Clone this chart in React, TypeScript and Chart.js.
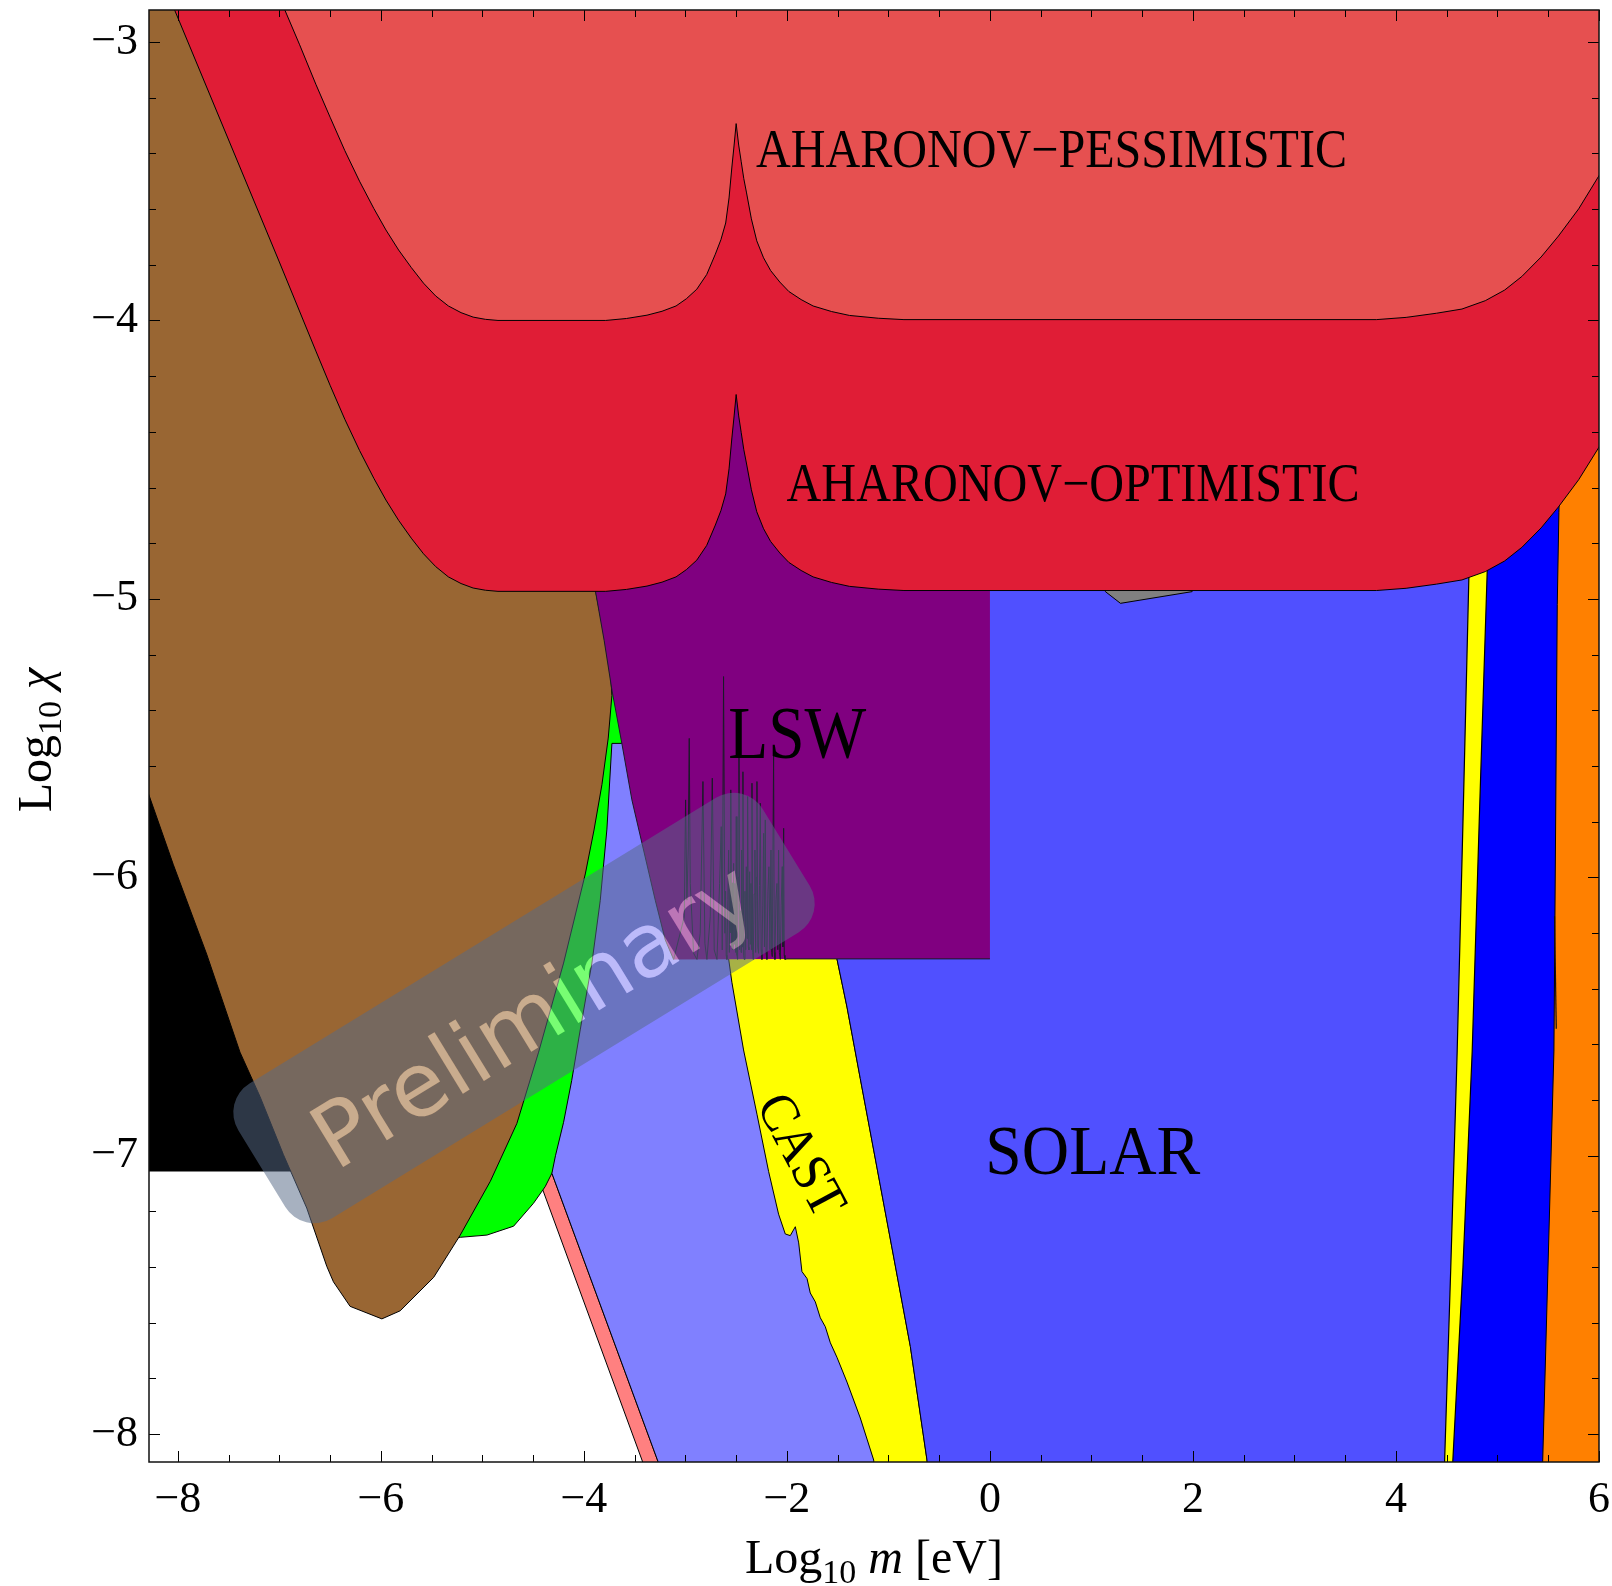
import React, { useEffect, useRef } from 'react';
import { Chart, registerables } from 'chart.js';

Chart.register(...registerables);

type Pt = [number, number];

// ---------- axes ----------
const X_MIN = -8.284;
const X_MAX = 6;
const Y_MIN = -8.1;
const Y_MAX = -2.885;
const xTickValues = [-8, -6, -4, -2, 0, 2, 4, 6];
const yTickValues = [-8, -7, -6, -5, -4, -3];
const xMinorStep = 0.5;
const yMinorStep = 0.2;

// ---------- regions (Log10 m, Log10 chi) ----------
const blackRegion: Pt[] = [[-8.4, -5.699], [-6.5, -5.699], [-6.5, -7.057], [-8.4, -7.057], [-8.4, -5.699]];

const pinkRegion: Pt[] = [[-4.498, -7.03], [-4.389, -6.99], [-3.167, -8.2], [-3.32, -8.2], [-4.498, -7.03]];

const greenRegion: Pt[] = [
  [-3.85, -5.1], [-3.6, -5.48], [-3.6, -6.2], [-4.0, -6.9], [-4.2, -7.0], [-4.315, -7.063],
  [-4.381, -7.111], [-4.497, -7.171], [-4.692, -7.253], [-4.955, -7.285], [-5.218, -7.293],
  [-5.35, -7.3], [-4.9, -6.8], [-4.3, -6.0], [-3.95, -5.3], [-3.85, -5.1],
];

const brownRegion: Pt[] = [
  [-8.4, -2.8], [-6.5, -2.8], [-4.5, -4.0], [-3.95, -4.8], [-3.887, -4.968], [-3.8, -5.13],
  [-3.735, -5.28], [-3.724, -5.347], [-3.76, -5.5], [-3.822, -5.667], [-3.9, -5.83],
  [-3.986, -5.988], [-4.2, -6.308], [-4.446, -6.628], [-4.66, -6.884], [-4.922, -7.092],
  [-5.218, -7.285], [-5.48, -7.437], [-5.81, -7.557], [-5.99, -7.586], [-6.303, -7.541],
  [-6.467, -7.453], [-6.533, -7.397], [-6.73, -7.188], [-6.96, -6.996], [-7.19, -6.788],
  [-7.388, -6.628], [-7.716, -6.276], [-8.044, -5.955], [-8.29, -5.699], [-8.4, -5.6], [-8.4, -2.8],
];

const periwinkleRegion: Pt[] = [
  [-3.724, -5.519], [-3.626, -5.519], [-3.5, -5.2], [-2.0, -5.2], [-0.9, -8.2], [-3.167, -8.2],
  [-3.265, -8.103], [-4.315, -7.063], [-4.28, -7.0], [-4.2, -6.88], [-4.12, -6.73], [-4.036, -6.548],
  [-3.921, -6.308], [-3.839, -6.084], [-3.773, -5.827], [-3.724, -5.519],
];

const castRegion: Pt[] = [
  [-3.0, -5.2], [-2.75, -5.9], [-2.574, -6.293], [-2.542, -6.377], [-2.427, -6.62], [-2.295, -6.851],
  [-2.18, -7.057], [-2.082, -7.21], [-2.016, -7.281], [-1.967, -7.287], [-1.917, -7.255],
  [-1.884, -7.313], [-1.852, -7.416], [-1.802, -7.441], [-1.77, -7.493], [-1.72, -7.525],
  [-1.671, -7.582], [-1.622, -7.614], [-1.572, -7.672], [-1.507, -7.724], [-1.408, -7.813],
  [-1.277, -7.942], [-1.145, -8.093], [-1.13, -8.2], [-0.6, -8.2], [-0.62, -8.093],
  [-0.784, -7.685], [-0.948, -7.364], [-1.112, -7.044], [-1.277, -6.723], [-1.408, -6.466],
  [-1.507, -6.293], [-1.6, -5.2], [-3.0, -5.2],
];

const solarRegion: Pt[] = [
  [-1.6, -4.6], [4.8, -4.6], [4.8, -4.9], [4.68, -6.624], [4.51, -8.2], [-0.6, -8.2],
  [-0.62, -8.093], [-0.784, -7.685], [-0.948, -7.364], [-1.112, -7.044], [-1.277, -6.723],
  [-1.408, -6.466], [-1.507, -6.293], [-1.6, -6.0], [-1.6, -4.6],
];

const orangeRegion: Pt[] = [[5.3, -4.3], [6.1, -4.3], [6.1, -8.2], [5.3, -8.2], [5.3, -4.3]];

const blueRegion: Pt[] = [
  [4.83, -4.5], [5.62, -4.5], [5.605, -4.69], [5.589, -5.02], [5.556, -6.624], [5.445, -8.1],
  [5.44, -8.2], [4.51, -8.2], [4.68, -6.624], [4.83, -4.9], [4.83, -4.5],
];

const yellowStrip: Pt[] = [
  [4.728, -4.8], [4.908, -4.8], [4.899, -4.898], [4.82, -5.8], [4.751, -6.624], [4.66, -7.4],
  [4.545, -8.2], [4.47, -8.2], [4.54, -7.4], [4.603, -6.624], [4.66, -5.8], [4.718, -4.923], [4.728, -4.8],
];

const sliverLine: Pt[] = [[5.562, -6.14], [5.579, -6.544]];

const lswRegion: Pt[] = [
  [-4.0, -4.2], [-3.95, -4.8], [-3.888, -4.968], [-3.8, -5.15], [-3.724, -5.327], [-3.626, -5.519],
  [-3.527, -5.722], [-3.412, -5.902], [-3.297, -6.082], [-3.198, -6.225], [-3.116, -6.295],
  [-2.0, -6.293], [0, -6.293], [0, -4.2], [-4.0, -4.2],
];

const lswEdge: Pt[] = [
  [-3.95, -4.8], [-3.888, -4.968], [-3.8, -5.15], [-3.724, -5.327], [-3.626, -5.519],
  [-3.527, -5.722], [-3.412, -5.902], [-3.297, -6.082], [-3.198, -6.225], [-3.116, -6.295],
  [-3.011, -6.142], [-2.998, -5.722], [-2.985, -6.082], [-2.972, -5.902], [-2.962, -5.501],
  [-2.952, -6.022], [-2.919, -6.273], [-2.886, -6.295], [-2.854, -6.201], [-2.827, -5.656],
  [-2.808, -6.237], [-2.788, -6.295], [-2.755, -6.142], [-2.735, -5.644], [-2.716, -6.261],
  [-2.689, -6.295], [-2.663, -6.022], [-2.647, -5.818], [-2.637, -6.261], [-2.624, -5.279],
  [-2.611, -6.201], [-2.604, -6.05], [-2.598, -6.28], [-2.591, -6.295], [-2.582, -6.08],
  [-2.574, -5.902], [-2.567, -6.27], [-2.56, -5.98], [-2.555, -6.2], [-2.551, -5.686],
  [-2.545, -6.25], [-2.539, -6.02], [-2.532, -6.261], [-2.525, -5.95], [-2.518, -6.24],
  [-2.512, -6.022], [-2.505, -6.27], [-2.499, -5.782], [-2.492, -6.28], [-2.486, -6.295],
  [-2.479, -6.0], [-2.472, -5.561], [-2.466, -6.26], [-2.459, -6.12], [-2.452, -6.27],
  [-2.446, -5.902], [-2.439, -6.25], [-2.433, -5.621], [-2.426, -6.28], [-2.42, -6.295],
  [-2.413, -6.05], [-2.406, -6.26], [-2.4, -5.962], [-2.393, -6.22], [-2.387, -5.71],
  [-2.38, -6.25], [-2.374, -6.261], [-2.367, -5.98], [-2.361, -6.24], [-2.354, -6.022],
  [-2.349, -6.26], [-2.344, -5.662], [-2.337, -6.27], [-2.331, -6.295], [-2.323, -6.06],
  [-2.315, -5.902], [-2.308, -6.27], [-2.301, -6.0], [-2.295, -5.656], [-2.287, -6.25],
  [-2.279, -6.273], [-2.27, -6.03], [-2.262, -5.734], [-2.254, -6.26], [-2.246, -6.295],
  [-2.238, -6.1], [-2.229, -5.842], [-2.221, -6.25], [-2.213, -5.794], [-2.205, -6.27],
  [-2.197, -6.295], [-2.187, -6.05], [-2.177, -5.962], [-2.167, -6.26], [-2.157, -5.902],
  [-2.15, -6.27], [-2.144, -6.285], [-2.131, -5.555], [-2.124, -6.27], [-2.118, -6.295],
  [-2.108, -6.08], [-2.098, -6.022], [-2.09, -6.26], [-2.082, -5.902], [-2.074, -6.27],
  [-2.065, -6.295], [-2.056, -6.1], [-2.046, -5.962], [-2.039, -6.25], [-2.032, -5.824],
  [-2.026, -6.28], [-2.019, -6.295], [-2.0, -6.293], [0, -6.293],
];

const grayRegion: Pt[] = [[1.1, -4.9], [1.138, -4.974], [1.286, -5.016], [1.992, -4.974], [2.03, -4.9], [1.1, -4.9]];

const optimisticRegion: Pt[] = [
  [-8.06, -2.86], [-7.0, -3.79], [-6.64, -4.11], [-6.5, -4.233], [-6.355, -4.355], [-6.21, -4.467],
  [-6.069, -4.567], [-5.95, -4.645], [-5.825, -4.718], [-5.7, -4.782], [-5.58, -4.838],
  [-5.46, -4.884], [-5.335, -4.921], [-5.21, -4.945], [-5.091, -4.961], [-4.97, -4.969],
  [-4.846, -4.973], [-3.785, -4.973], [-3.58, -4.966], [-3.378, -4.954], [-3.23, -4.94],
  [-3.092, -4.921], [-2.99, -4.895], [-2.888, -4.861], [-2.79, -4.808], [-2.705, -4.735],
  [-2.65, -4.683], [-2.603, -4.623], [-2.57, -4.533], [-2.542, -4.422], [-2.52, -4.343],
  [-2.5, -4.266], [-2.475, -4.343], [-2.45, -4.403], [-2.425, -4.463], [-2.399, -4.512],
  [-2.35, -4.608], [-2.297, -4.687], [-2.23, -4.748], [-2.16, -4.794], [-2.07, -4.835],
  [-1.981, -4.869], [-1.86, -4.898], [-1.742, -4.921], [-1.56, -4.941], [-1.384, -4.955],
  [-1.1, -4.965], [-0.847, -4.97], [3.807, -4.97], [4.1, -4.962], [4.4, -4.947],
  [4.65, -4.932], [4.88, -4.902], [5.07, -4.864], [5.24, -4.815], [5.43, -4.745], [5.6, -4.67],
  [5.8, -4.572], [6.0, -4.455], [6.1, -4.39], [6.1, -2.8], [-8.2, -2.8], [-8.06, -2.86],
];

const pessimisticRegion: Pt[] = [
  [-6.975, -2.86], [-6.8, -3.01], [-6.64, -3.152], [-6.5, -3.27], [-6.355, -3.39], [-6.21, -3.5],
  [-6.069, -3.598], [-5.95, -3.675], [-5.825, -3.747], [-5.7, -3.81], [-5.58, -3.866],
  [-5.46, -3.912], [-5.335, -3.948], [-5.21, -3.972], [-5.091, -3.988], [-4.97, -3.996],
  [-4.846, -4.0], [-3.785, -4.0], [-3.58, -3.993], [-3.378, -3.981], [-3.23, -3.967],
  [-3.092, -3.948], [-2.99, -3.922], [-2.888, -3.888], [-2.79, -3.835], [-2.705, -3.762],
  [-2.65, -3.71], [-2.603, -3.65], [-2.57, -3.56], [-2.542, -3.449], [-2.52, -3.37],
  [-2.5, -3.293], [-2.475, -3.37], [-2.45, -3.43], [-2.425, -3.49], [-2.399, -3.539],
  [-2.35, -3.635], [-2.297, -3.714], [-2.23, -3.775], [-2.16, -3.821], [-2.07, -3.862],
  [-1.981, -3.896], [-1.86, -3.925], [-1.742, -3.948], [-1.56, -3.968], [-1.384, -3.982],
  [-1.1, -3.992], [-0.847, -3.997], [3.807, -3.997], [4.1, -3.989], [4.4, -3.974],
  [4.65, -3.959], [4.88, -3.929], [5.07, -3.891], [5.24, -3.842], [5.43, -3.772], [5.6, -3.697],
  [5.8, -3.599], [6.0, -3.48], [6.1, -3.41], [6.1, -2.8], [-7.1, -2.8], [-6.975, -2.86],
];

// ---------- labels ----------
const labelTexts = ['AHARONOV\u2212PESSIMISTIC', 'AHARONOV\u2212OPTIMISTIC', 'LSW', 'SOLAR', 'CAST'];
const labelX = [0.607, 0.819, -1.898, 1.014, -1.85];
const labelY = [-3.386, -4.584, -5.485, -6.983, -6.996];

// ---------- styles ----------
const SERIF = '"Liberation Serif", "Times New Roman", serif';
const labelStyle = [
  { size: 54, width: 591, rot: 0 },
  { size: 54, width: 573, rot: 0 },
  { size: 75, width: 138, rot: 0 },
  { size: 70, width: 215, rot: 0 },
  { size: 54, width: 131, rot: 62 },
];

const layers = [
  { name: 'black', pts: blackRegion, fill: '#000000', stroke: '#000', lw: 0 },
  { name: 'pink', pts: pinkRegion, fill: '#FF8080', stroke: '#000', lw: 1 },
  { name: 'green', pts: greenRegion, fill: '#00FF00', stroke: '#000', lw: 1 },
  { name: 'brown', pts: brownRegion, fill: '#996633', stroke: '#000', lw: 1 },
  { name: 'periwinkle', pts: periwinkleRegion, fill: '#8080FF', stroke: '#000', lw: 1 },
  { name: 'cast', pts: castRegion, fill: '#FFFF00', stroke: '#000', lw: 1 },
  { name: 'solar', pts: solarRegion, fill: '#5050FF', stroke: '#000', lw: 1 },
  { name: 'orange', pts: orangeRegion, fill: '#FF8000', stroke: '#000', lw: 0 },
  { name: 'blue', pts: blueRegion, fill: '#0000FF', stroke: '#000', lw: 1 },
  { name: 'yellowStrip', pts: yellowStrip, fill: '#FFFF00', stroke: '#000', lw: 1.2 },
  { name: 'sliver', pts: sliverLine, fill: null, stroke: '#111', lw: 1.2 },
  { name: 'lsw', pts: lswRegion, fill: '#800080', stroke: '#000', lw: 0 },
  { name: 'lswEdge', pts: lswEdge, fill: null, stroke: '#1a1a28', lw: 1 },
  { name: 'gray', pts: grayRegion, fill: '#808080', stroke: '#000', lw: 1 },
  { name: 'optimistic', pts: optimisticRegion, fill: '#E01D36', stroke: '#000', lw: 1 },
  { name: 'pessimistic', pts: pessimisticRegion, fill: '#E65050', stroke: '#000', lw: 1 },
];

const fmt = (v: number) => (v < 0 ? '\u2212' + Math.abs(v) : String(v));

const framePlugin = {
  id: 'frameTicks',
  afterDatasetsDraw(chart: any) {
    const { ctx, chartArea: a, scales } = chart;
    const xs = scales.x, ys = scales.y;
    ctx.save();
    ctx.strokeStyle = '#000';
    ctx.lineWidth = 1;
    ctx.beginPath();
    for (let k = Math.ceil(X_MIN / xMinorStep); k * xMinorStep <= X_MAX + 1e-9; k++) {
      const v = k * xMinorStep;
      const major = xTickValues.some((t) => Math.abs(t - v) < 1e-6);
      const len = major ? 11 : 7;
      const px = Math.round(xs.getPixelForValue(v)) + 0.5;
      ctx.moveTo(px, a.bottom); ctx.lineTo(px, a.bottom - len);
      ctx.moveTo(px, a.top); ctx.lineTo(px, a.top + len);
    }
    for (let k = Math.ceil(Y_MIN / yMinorStep - 1e-9); k * yMinorStep <= Y_MAX + 1e-9; k++) {
      const v = k * yMinorStep;
      const major = yTickValues.some((t) => Math.abs(t - v) < 1e-6);
      const len = major ? 11 : 7;
      const py = Math.round(ys.getPixelForValue(v)) + 0.5;
      ctx.moveTo(a.left, py); ctx.lineTo(a.left + len, py);
      ctx.moveTo(a.right, py); ctx.lineTo(a.right - len, py);
    }
    ctx.stroke();
    ctx.lineWidth = 1.5;
    ctx.strokeStyle = '#111';
    ctx.strokeRect(a.left, a.top, a.right - a.left, a.bottom - a.top);
    ctx.restore();
  },
};

const labelPlugin = {
  id: 'regionLabels',
  afterDatasetsDraw(chart: any) {
    const { ctx, scales } = chart;
    ctx.save();
    ctx.fillStyle = '#000';
    ctx.textBaseline = 'alphabetic';
    labelTexts.forEach((t, i) => {
      const st = labelStyle[i];
      const px = scales.x.getPixelForValue(labelX[i]);
      const py = scales.y.getPixelForValue(labelY[i]);
      ctx.save();
      ctx.translate(px, py);
      ctx.rotate((st.rot * Math.PI) / 180);
      ctx.font = `${st.size}px ${SERIF}`;
      const w = ctx.measureText(t).width;
      ctx.scale(st.width / w, 1);
      ctx.fillText(t, -w / 2, (st.size * 0.655) / 2);
      ctx.restore();
    });
    ctx.restore();
  },
};

type Part = { t: string; font: string; dy?: number };
function richWidth(ctx: CanvasRenderingContext2D, parts: Part[]) {
  let w = 0;
  for (const p of parts) { ctx.font = p.font; w += ctx.measureText(p.t).width; }
  return w;
}
function drawRich(ctx: CanvasRenderingContext2D, parts: Part[], x0: number, y0: number) {
  let x = x0;
  for (const p of parts) {
    ctx.font = p.font;
    ctx.fillText(p.t, x, y0 + (p.dy || 0));
    x += ctx.measureText(p.t).width;
  }
}

const titlePlugin = {
  id: 'axisTitles',
  afterDraw(chart: any) {
    const { ctx, chartArea: a } = chart;
    ctx.save();
    ctx.fillStyle = '#000';
    ctx.textBaseline = 'alphabetic';
    ctx.textAlign = 'left';
    const main = `48px ${SERIF}`;
    const sub = `34px ${SERIF}`;
    const ital = `italic 48px ${SERIF}`;
    const xParts: Part[] = [
      { t: 'Log', font: main }, { t: '10', font: sub, dy: 10 }, { t: ' ', font: main },
      { t: 'm', font: ital }, { t: ' [eV]', font: main },
    ];
    const xw = richWidth(ctx, xParts);
    drawRich(ctx, xParts, (a.left + a.right) / 2 - xw / 2, a.bottom + 111);
    const yParts: Part[] = [
      { t: 'Log', font: main }, { t: '10', font: sub, dy: 10 }, { t: ' ', font: main }, { t: '\u03C7', font: ital },
    ];
    const yw = richWidth(ctx, yParts);
    ctx.translate(a.left - 98, (a.top + a.bottom) / 2 + 4);
    ctx.rotate(-Math.PI / 2);
    drawRich(ctx, yParts, -yw / 2, 0);
    ctx.restore();
  },
};

function roundRectPath(ctx: CanvasRenderingContext2D, x: number, y: number, w: number, h: number, r: number) {
  ctx.beginPath();
  ctx.moveTo(x + r, y);
  ctx.lineTo(x + w - r, y);
  ctx.arcTo(x + w, y, x + w, y + r, r);
  ctx.lineTo(x + w, y + h - r);
  ctx.arcTo(x + w, y + h, x + w - r, y + h, r);
  ctx.lineTo(x + r, y + h);
  ctx.arcTo(x, y + h, x, y + h - r, r);
  ctx.lineTo(x, y + r);
  ctx.arcTo(x, y, x + r, y, r);
  ctx.closePath();
}

const watermarkPlugin = {
  id: 'watermark',
  afterDraw(chart: any) {
    const { ctx, chartArea: a, width, height } = chart;
    const cx = a.left + 375, cy = a.top + 998;
    const W = 615, H = 158, R = 34, ang = (-31.5 * Math.PI) / 180;
    const text = 'Preliminary';
    const FS = 88;
    const textV = (0.73 * FS) / 2 + 9;
    const off = document.createElement('canvas');
    off.width = width; off.height = height;
    const o = off.getContext('2d')!;
    o.translate(cx, cy); o.rotate(ang);
    roundRectPath(o, -W / 2, -H / 2, W, H, R);
    o.fillStyle = 'rgb(87,106,135)';
    o.fill();
    o.font = `${FS}px "DejaVu Sans", sans-serif`;
    const tw = o.measureText(text).width;
    const sc = 500 / tw;
    o.globalCompositeOperation = 'destination-out';
    o.save(); o.scale(sc, sc);
    o.textBaseline = 'alphabetic';
    o.fillText(text, -tw / 2 + 4, textV / sc);
    o.restore();
    ctx.save();
    ctx.globalAlpha = 0.52;
    ctx.drawImage(off, 0, 0);
    ctx.globalAlpha = 1;
    ctx.translate(cx, cy); ctx.rotate(ang); ctx.scale(sc, sc);
    ctx.font = `${FS}px "DejaVu Sans", sans-serif`;
    ctx.textBaseline = 'alphabetic';
    ctx.fillStyle = 'rgba(255,250,245,0.47)';
    ctx.fillText(text, -tw / 2 + 4, textV / sc);
    ctx.restore();
  },
};

const zeroPad = (s: any) => { s.paddingLeft = 0; s.paddingRight = 0; s.paddingTop = 0; s.paddingBottom = 0; };

export default function App() {
  const ref = useRef<HTMLCanvasElement>(null);
  useEffect(() => {
    document.body.style.margin = '0';
    const canvas = ref.current!;
    const n = layers.length;
    const datasets = layers.map((l, i) => ({
      label: l.name,
      data: l.pts.map(([x, y]) => ({ x, y })),
      fill: l.fill ? 'shape' : false,
      backgroundColor: l.fill || 'rgba(0,0,0,0)',
      borderColor: l.lw > 0 ? l.stroke : 'rgba(0,0,0,0)',
      borderWidth: l.lw,
      pointRadius: 0,
      pointHoverRadius: 0,
      tension: 0,
      order: n - i,
    }));
    const tickFont = { family: SERIF, size: 44 };
    const chart = new Chart(canvas, {
      type: 'line',
      data: { datasets } as any,
      options: {
        animation: false,
        responsive: false,
        devicePixelRatio: 1,
        events: [],
        layout: { padding: { top: 10, right: 13, left: 0, bottom: 0 } },
        plugins: { legend: { display: false }, tooltip: { enabled: false } },
        scales: {
          x: {
            type: 'linear',
            min: X_MIN,
            max: X_MAX,
            grid: { display: false, drawTicks: false },
            border: { display: false },
            ticks: { font: tickFont, color: '#000', padding: 12, maxRotation: 0, callback: (v: any) => fmt(Number(v)) },
            afterBuildTicks: (s: any) => { s.ticks = xTickValues.map((value) => ({ value })); },
            afterFit: (s: any) => { s.height = 124; zeroPad(s); },
          },
          y: {
            type: 'linear',
            min: Y_MIN,
            max: Y_MAX,
            grid: { display: false, drawTicks: false },
            border: { display: false },
            ticks: { font: tickFont, color: '#000', padding: 11, callback: (v: any) => fmt(Number(v)) },
            afterBuildTicks: (s: any) => { s.ticks = yTickValues.map((value) => ({ value })); },
            afterFit: (s: any) => { s.width = 149; zeroPad(s); },
          },
        },
      } as any,
      plugins: [framePlugin, labelPlugin, titlePlugin, watermarkPlugin],
    });
    return () => chart.destroy();
  }, []);
  return (
    <div style={{ width: 1612, height: 1586 }}>
      <canvas ref={ref} width={1612} height={1586} style={{ display: 'block', width: '1612px', height: '1586px' }} />
    </div>
  );
}
